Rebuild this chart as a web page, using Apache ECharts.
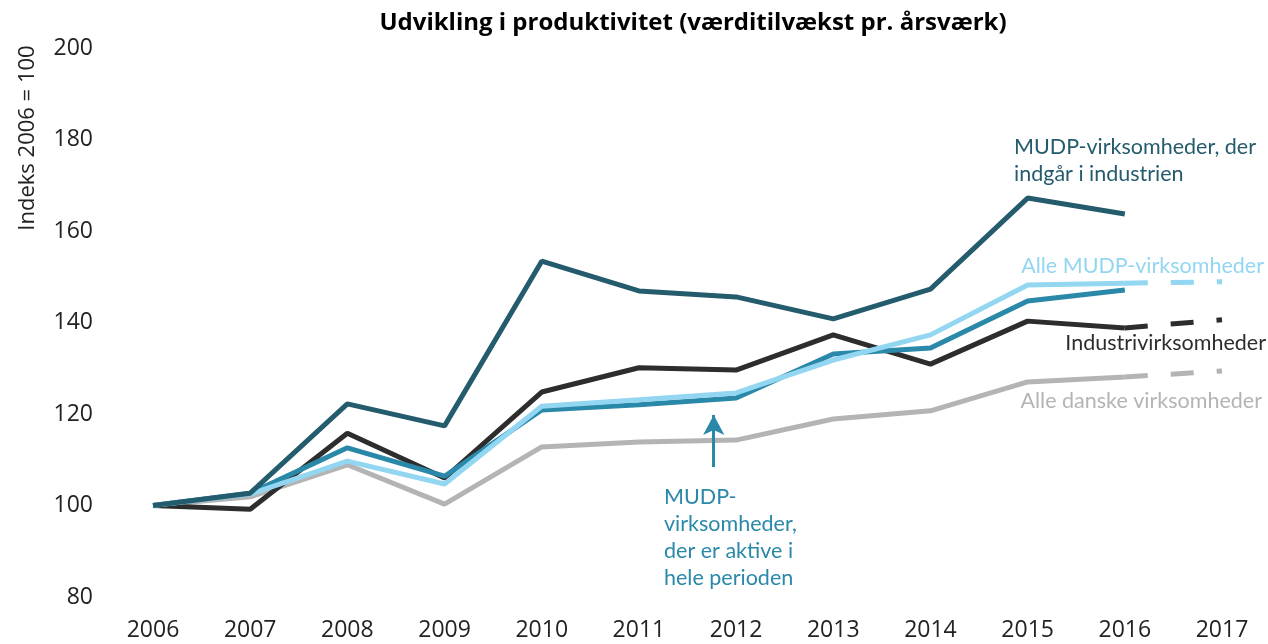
<!DOCTYPE html>
<html>
<head>
<meta charset="utf-8">
<script src="https://cdn.jsdelivr.net/npm/echarts@6/dist/echarts.min.js"></script>
<style>
  html, body { margin: 0; padding: 0; background: #fff; }
  #main { width: 1268px; height: 644px; }
</style>
</head>
<body>
<div id="main"></div>
<script>
// data
const years = [2006, 2007, 2008, 2009, 2010, 2011, 2012, 2013, 2014, 2015, 2016];
const mudpIndustri = [100, 102.7, 122.2, 117.4, 153.4, 146.9, 145.6, 140.8, 147.3, 167.2, 163.7];
const industri = [100, 99.2, 115.8, 106, 124.8, 130.1, 129.6, 137.3, 130.9, 140.3, 138.8];
const alleMudp = [100, 102.5, 109.7, 104.7, 121.7, 123.1, 124.6, 131.8, 137.3, 148.2, 148.6];
const mudpAktive = [100, 102.7, 112.6, 106.4, 120.9, 122, 123.5, 133.1, 134.4, 144.7, 147.1];
const alleDanske = [100, 101.9, 108.9, 100.3, 112.8, 113.9, 114.3, 118.9, 120.7, 127.0, 128.1];
// dashed extension 2016 -> 2017
const extYears = [2016, 2017];
const industriExt = [138.8, 140.6];
const alleMudpExt = [148.6, 148.9];
const alleDanskeExt = [128.1, 129.4];

const C_DARK = '#245b6d';
const C_MID = '#2a88a8';
const C_LIGHT = '#92d6f2';
const C_BLACK = '#2d2d2d';
const C_GRAY = '#b4b4b4';

const pairs = (xs, ys) => xs.map((x, i) => [x, ys[i]]);

function line(name, xs, ys, color, z, dashed) {
  return {
    name: name,
    type: 'line',
    data: pairs(xs, ys),
    symbol: 'none',
    z: z,
    silent: true,
    lineStyle: { color: color, width: 5, type: dashed ? [23, 23] : 'solid', cap: 'butt' },
    animation: false
  };
}

const myChart = echarts.init(document.getElementById('main'));

const mudpAktiveSeries = line('MUDP aktive', years, mudpAktive, C_MID, 4);
mudpAktiveSeries.markLine = {
  silent: true,
  symbol: ['none', 'arrow'],
  symbolSize: [16, 20],
  label: { show: false },
  lineStyle: { color: C_MID, width: 3, type: 'solid' },
  data: [[{ coord: [2011.77, 108.4] }, { coord: [2011.77, 119.8] }]]
};

const labelFont = 'Lato, "Noto Sans", sans-serif';
const labelSize = 21.5;

myChart.setOption({
  title: {
    text: 'Udvikling i produktivitet (værditilvækst pr. årsværk)',
    left: 688,
    textAlign: 'center',
    top: 6,
    textStyle: { fontFamily: '"Open Sans", sans-serif', fontWeight: 'bold', fontSize: 24, color: '#000' }
  },
  grid: { left: 153, right: 46, top: 48, bottom: 47, containLabel: false },
  xAxis: {
    type: 'value',
    min: 2006,
    max: 2017,
    interval: 1,
    axisLine: { show: false },
    axisTick: { show: false },
    splitLine: { show: false },
    axisLabel: {
      margin: 22,
      fontSize: 23,
      color: '#222',
      fontFamily: '"Open Sans", sans-serif',
      formatter: v => String(v)
    }
  },
  yAxis: {
    type: 'value',
    min: 80,
    max: 200,
    interval: 20,
    axisLine: { show: false },
    axisTick: { show: false },
    splitLine: { show: false },
    axisLabel: {
      margin: 60,
      fontSize: 23,
      color: '#222',
      fontFamily: '"Open Sans", sans-serif'
    }
  },
  graphic: [
    {
      type: 'text', x: 28, y: 138, rotation: Math.PI / 2,
      style: { text: 'Indeks 2006 = 100', fontSize: 22, fill: '#222', fontFamily: '"Open Sans", sans-serif', align: 'center', verticalAlign: 'middle' }
    },
    {
      type: 'text', x: 1014, y: 134,
      style: { text: 'MUDP-virksomheder, der\nindgår i industrien', fontSize: labelSize, lineHeight: 27, fill: C_DARK, fontFamily: labelFont }
    },
    {
      type: 'text', x: 1264, y: 266,
      style: { text: 'Alle MUDP-virksomheder', fontSize: labelSize, fill: C_LIGHT, fontFamily: labelFont, align: 'right', verticalAlign: 'middle' }
    },
    {
      type: 'text', x: 1266, y: 343,
      style: { text: 'Industrivirksomheder', fontSize: labelSize, fill: C_BLACK, fontFamily: labelFont, align: 'right', verticalAlign: 'middle' }
    },
    {
      type: 'text', x: 1262, y: 401,
      style: { text: 'Alle danske virksomheder', fontSize: labelSize, fill: C_GRAY, fontFamily: labelFont, align: 'right', verticalAlign: 'middle' }
    },
    {
      type: 'text', x: 664, y: 484,
      style: { text: 'MUDP-\nvirksomheder,\nder er aktive i\nhele perioden', fontSize: labelSize, lineHeight: 27, fill: C_MID, fontFamily: labelFont }
    }
  ],
  series: [
    line('Alle danske virksomheder', years, alleDanske, C_GRAY, 1),
    line('Alle danske ext', extYears, alleDanskeExt, C_GRAY, 1, true),
    line('Industrivirksomheder', years, industri, C_BLACK, 3),
    line('Industri ext', extYears, industriExt, C_BLACK, 3, true),
    mudpAktiveSeries,
    line('Alle MUDP-virksomheder', years, alleMudp, C_LIGHT, 5),
    line('Alle MUDP ext', extYears, alleMudpExt, C_LIGHT, 5, true),
    line('MUDP industri', years, mudpIndustri, C_DARK, 6)
  ]
});
</script>
</body>
</html>
